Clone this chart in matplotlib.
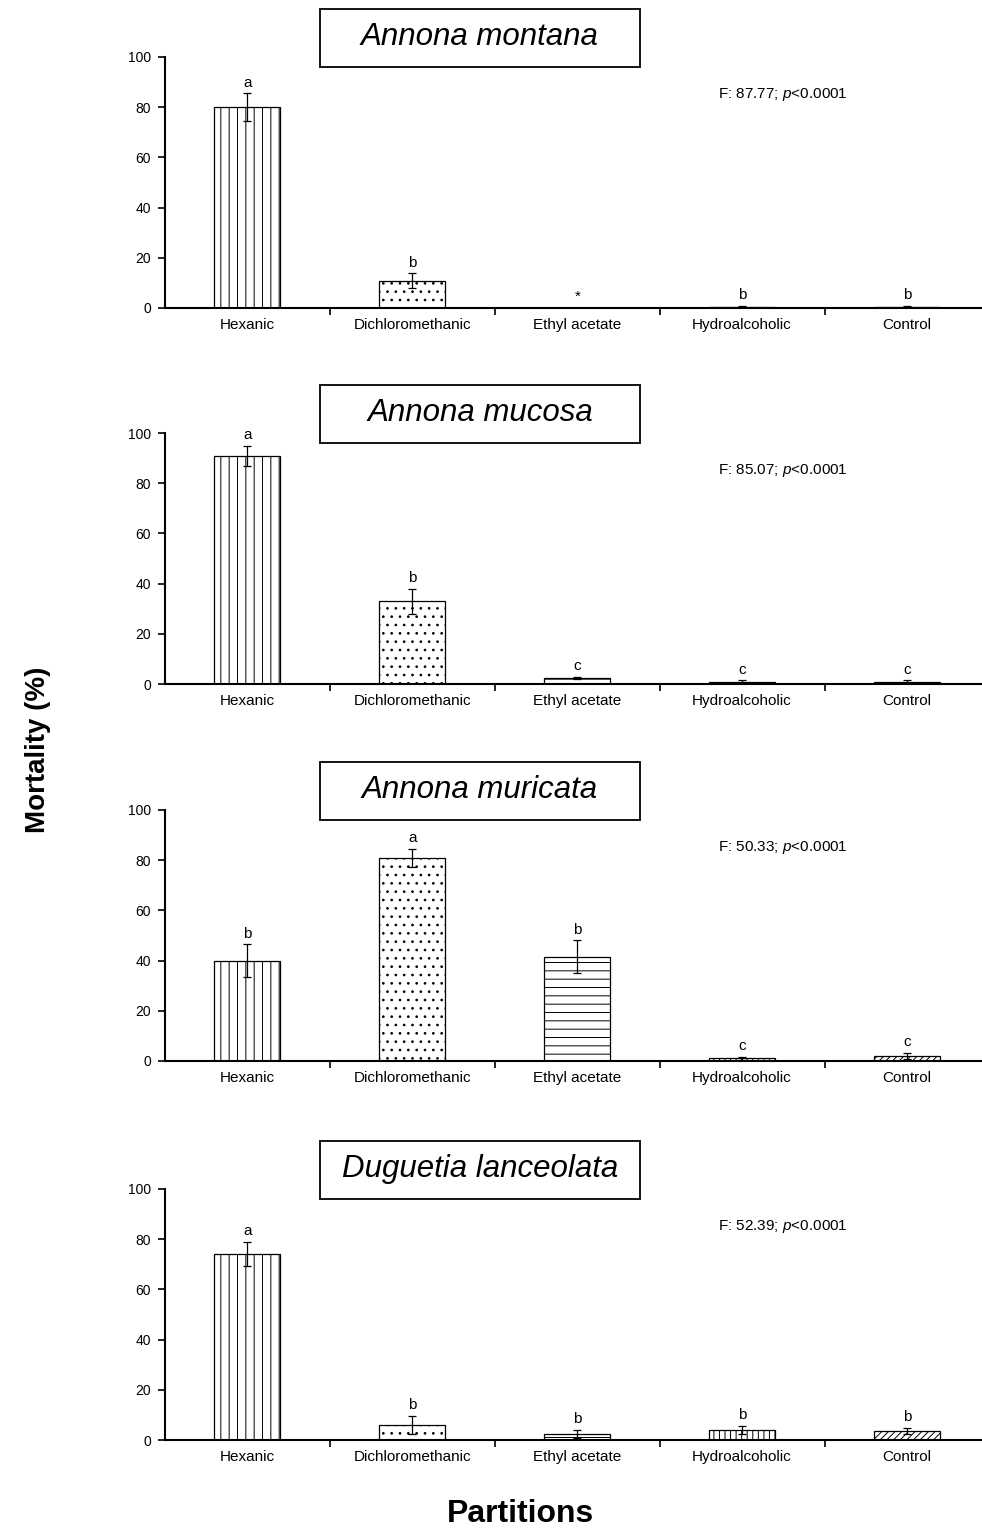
import matplotlib
matplotlib.use("Agg")
import matplotlib.pyplot as plt
from matplotlib.patches import Rectangle

plt.rcParams["font.family"] = ["Liberation Sans", "DejaVu Sans"]
plt.rcParams["mathtext.fontset"] = "custom"
plt.rcParams["mathtext.rm"] = "Liberation Sans"
plt.rcParams["mathtext.it"] = "Liberation Sans:italic"
plt.rcParams["hatch.linewidth"] = 0.7

partitions = ["Hexanic", "Dichloromethanic", "Ethyl acetate", "Hydroalcoholic", "Control"]
hatches = ["||", "..", "--", "|||", "/////"]

species = ["Annona montana", "Annona mucosa", "Annona muricata", "Duguetia lanceolata"]
f_values = ["87.77", "85.07", "50.33", "52.39"]

montana = [80.0, 10.8, 0.0, 0.5, 0.5]
montana_err = [5.5, 3.0, 0.0, 0.2, 0.2]
montana_letters = ["a", "b", "*", "b", "b"]

mucosa = [91.0, 33.0, 2.4, 1.0, 1.0]
mucosa_err = [4.0, 5.0, 0.5, 0.5, 0.5]
mucosa_letters = ["a", "b", "c", "c", "c"]

muricata = [40.0, 80.8, 41.6, 1.0, 2.0]
muricata_err = [6.4, 3.6, 6.4, 0.5, 1.2]
muricata_letters = ["b", "a", "b", "c", "c"]

duguetia = [74.0, 6.0, 2.5, 4.0, 3.5]
duguetia_err = [4.8, 3.5, 1.5, 1.5, 1.3]
duguetia_letters = ["a", "b", "b", "b", "b"]

means = [montana, mucosa, muricata, duguetia]
errors = [montana_err, mucosa_err, muricata_err, duguetia_err]
letters = [montana_letters, mucosa_letters, muricata_letters, duguetia_letters]

fig = plt.figure(figsize=(9.82, 15.29), dpi=100)

bottoms = [0.7986, 0.5526, 0.3061, 0.0582]
x = list(range(len(partitions)))

for i in range(4):
    ax = fig.add_axes([0.168, bottoms[i], 0.8396, 0.1642])
    ax.bar(x, means[i], width=0.4, color="white", edgecolor="black",
           linewidth=0.9, hatch=hatches, zorder=2)
    ax.errorbar(x, means[i], yerr=errors[i], fmt="none", ecolor="black",
                elinewidth=0.9, capsize=3, capthick=0.9, zorder=3)
    for xi, m, e, lab in zip(x, means[i], errors[i], letters[i]):
        ax.text(xi, m + e + 1.5, lab, ha="center", va="bottom", fontsize=11)

    ax.set_xlim(-0.5, 4.5)
    ax.set_ylim(0, 100)
    ax.set_yticks(range(0, 101, 20))
    ax.set_xticks(x)
    ax.set_xticklabels(partitions, fontsize=11)
    ax.set_xticks([0.5, 1.5, 2.5, 3.5], minor=True)
    ax.tick_params(axis="x", which="major", length=0, pad=7)
    ax.tick_params(axis="x", which="minor", length=5, width=1.2, direction="out")
    ax.tick_params(axis="y", length=5, width=1.2, labelsize=10, pad=5)
    ax.spines["top"].set_visible(False)
    ax.spines["right"].set_visible(False)
    ax.spines["left"].set_linewidth(1.5)
    ax.spines["bottom"].set_linewidth(1.5)

    ax.text(0.75, 0.85, "F: " + f_values[i] + "; $\\mathit{p}$<0.0001",
            transform=ax.transAxes, ha="center", va="center", fontsize=11)

    box = Rectangle((0.188, 0.96), 0.388, 0.23, transform=ax.transAxes,
                    facecolor="white", edgecolor="black", linewidth=1.3,
                    clip_on=False, zorder=5)
    ax.add_patch(box)
    ax.text(0.382, 1.078, species[i], transform=ax.transAxes, ha="center",
            va="center", fontsize=22.5, style="italic", zorder=6)

fig.text(0.039, 0.5095, "Mortality (%)", rotation=90, ha="center", va="center",
         fontsize=20, fontweight="bold")
fig.text(0.53, 0.0098, "Partitions", ha="center", va="center",
         fontsize=23, fontweight="bold")

fig.savefig("out.png", dpi=100)
